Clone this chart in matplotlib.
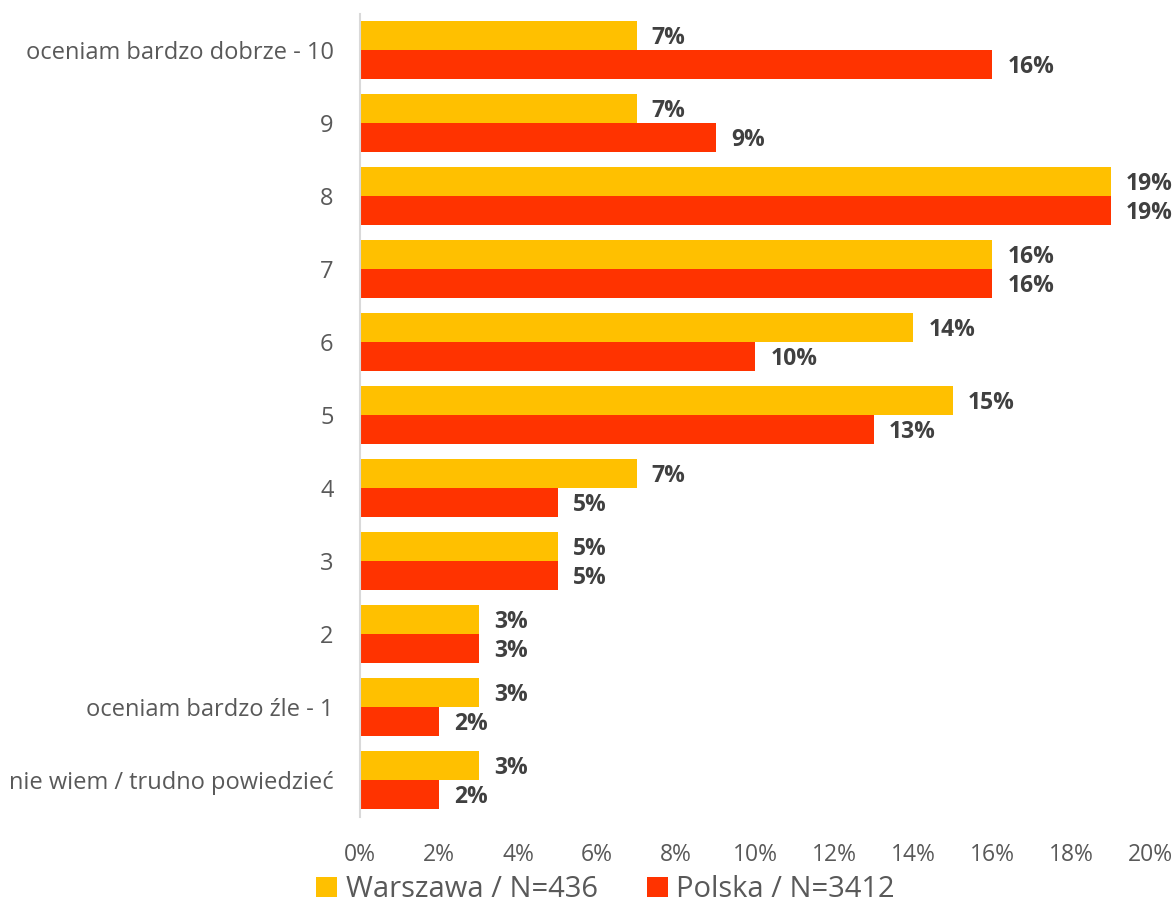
import matplotlib
matplotlib.use("Agg")
import matplotlib.pyplot as plt
import numpy as np

plt.rcParams['font.family'] = ['Open Sans', 'DejaVu Sans']

categories = ["oceniam bardzo dobrze - 10", "9", "8", "7", "6", "5", "4", "3", "2",
              "oceniam bardzo źle - 1", "nie wiem / trudno powiedzieć"]
warszawa = [7, 7, 19, 16, 14, 15, 7, 5, 3, 3, 3]
polska = [16, 9, 19, 16, 10, 13, 5, 5, 3, 2, 2]
series_names = ["Warszawa / N=436", "Polska / N=3412"]
xticks = [0, 2, 4, 6, 8, 10, 12, 14, 16, 18, 20]

c_w = "#FFC000"
c_p = "#FF3300"
txt = "#595959"
lab = "#404040"

fig = plt.figure(figsize=(11.76, 9.22), dpi=100)
ax = fig.add_axes([360/1176, 1-816.5/922, 790/1176, 803/922])

y = np.arange(len(categories))
h = 0.4
bw = ax.barh(y - h/2, warszawa, height=h, color=c_w, label=series_names[0])
bp = ax.barh(y + h/2, polska, height=h, color=c_p, label=series_names[1])

for yy, v in zip(y - h/2, warszawa):
    ax.annotate(f"{v}%", (v, yy), xytext=(11, -2), textcoords="offset points",
                va="center", ha="left", fontsize=16.5, fontweight="bold", color=lab)
for yy, v in zip(y + h/2, polska):
    ax.annotate(f"{v}%", (v, yy), xytext=(11, -2), textcoords="offset points",
                va="center", ha="left", fontsize=16.5, fontweight="bold", color=lab)

ax.set_ylim(len(categories) - 0.5, -0.5)
ax.set_xlim(0, 20)
ax.set_yticks(y)
ax.set_yticklabels(categories, fontsize=17, color=txt)
ax.set_xticks(xticks)
ax.set_xticklabels([f"{t}%" for t in xticks], fontsize=16.5, color=txt)
ax.tick_params(axis="both", length=0)
ax.tick_params(axis="x", pad=19)
ax.tick_params(axis="y", pad=19)
for s in ["top", "right", "bottom"]:
    ax.spines[s].set_visible(False)
ax.spines["left"].set_color("#D9D9D9")
ax.spines["left"].set_linewidth(1.5)

leg = fig.legend(handles=[bw, bp], labels=series_names, loc="lower center",
                 bbox_to_anchor=(0.515, -0.009), ncol=2, frameon=False,
                 fontsize=21, handlelength=0.7, handleheight=0.7,
                 handletextpad=0.3, columnspacing=1.7)
for t in leg.get_texts():
    t.set_color(txt)

fig.savefig("out.png", dpi=100)
